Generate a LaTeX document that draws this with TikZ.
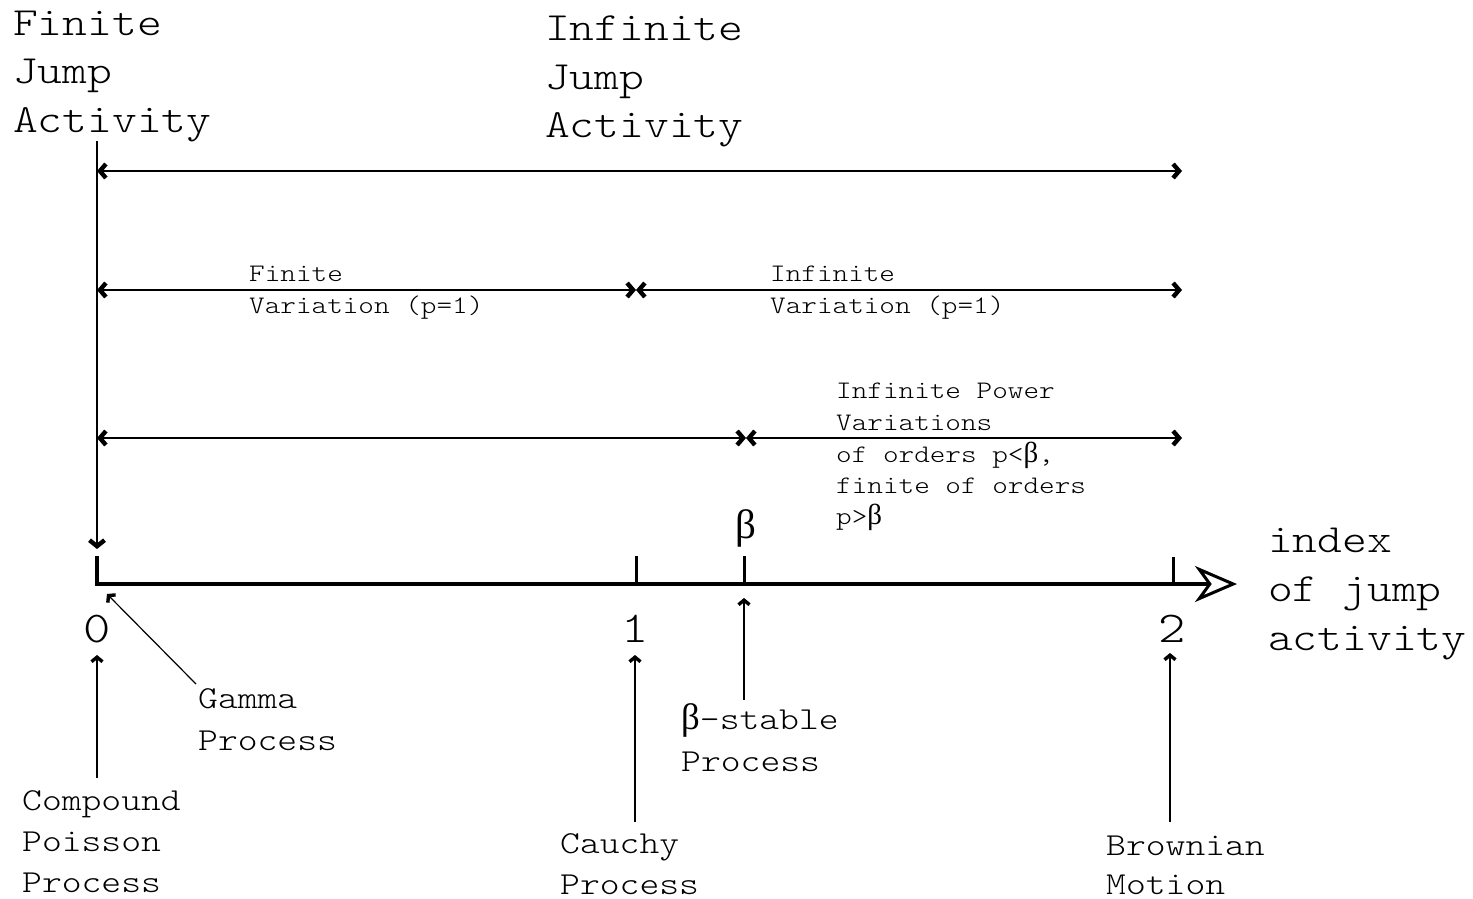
\documentclass[tikz,border=0pt]{standalone}
\usepackage{fontspec}
\setmainfont{Latin Modern Mono Light}[FakeStretch=1.18]
\newfontfamily\serifb{Liberation Serif}
\usetikzlibrary{arrows.meta}
\newcommand{\bt}{{\serifb\fontsize{1.15em}{1em}\selectfont β}}
\begin{document}
\begin{tikzpicture}[x=1pt,y=-1pt,
  lab/.style={inner sep=0pt, anchor=base west},
  big/.style={lab, font=\fontsize{40}{48}\selectfont},
  mid/.style={lab, font=\fontsize{32}{41}\selectfont},
  sml/.style={lab, font=\fontsize{25.2}{32}\selectfont},
  digitlab/.style={inner sep=0pt, anchor=base, font=\fontsize{44}{50}\selectfont},
  chev/.tip={Straight Barb[length=6pt,width=14pt,line width=4.4pt]},
  lchev/.tip={Straight Barb[length=4.5pt,width=11pt,line width=3.4pt]},
  spanarrow/.style={line width=1.4pt, chev-chev},
  ptr/.style={line width=1.2pt, -lchev},
  tickmark/.style={line width=3pt},
]
\useasboundingbox (0,0) rectangle (1473,899);

% top texts
\node[big] (f1) at (13,36) {Finite};
\node[big] (f2) at (13,84) {Jump};
\node[big] (f3) at (13,132) {Activity};
\node[big] (i1) at (545,41) {Infinite};
\node[big] (i2) at (545,89) {Jump};
\node[big] (i3) at (545,137) {Activity};

% coordinates
\coordinate (o) at (97,584);
\coordinate (ztop) at (97,556);
\coordinate (axend) at (1237,584);
\coordinate (vtop) at (97,141);
\coordinate (vbot) at (97,549);
\coordinate (r1l) at (97,171);
\coordinate (r1r) at (1182,171);
\coordinate (r2l) at (97,290);
\coordinate (r2m) at (636,290);
\coordinate (r2r) at (1182,290);
\coordinate (r3l) at (97,438);
\coordinate (r3m) at (746,438);
\coordinate (r3r) at (1182,438);

% vertical line from finite jump activity
\draw[line width=1.4pt, -{Straight Barb[length=6pt,width=15pt,line width=4.4pt]}] (vtop) -- (vbot);

% ranges
\draw[spanarrow] (r1l) -- (r1r);
\draw[spanarrow] (r2l) -- (r2m);
\draw[spanarrow] (r2m) -- (r2r);
\draw[spanarrow] (r3l) -- (r3m);
\draw[spanarrow] (r3m) -- (r3r);

\node[sml] (fv1) at (249,281) {Finite};
\node[sml] (fv2) at (249,313) {Variation (p=1)};
\node[sml] (iv1) at (770,281) {Infinite};
\node[sml] (iv2) at (770,313) {Variation (p=1)};
\node[sml] (ip1) at (836,398) {Infinite Power};
\node[sml] (ip2) at (836,430) {Variations};
\node[sml] (ip3) at (836,462) {of orders p<\bt,};
\node[sml] (ip4) at (836,493) {finite of orders};
\node[sml] (ip5) at (836,524) {p>\bt};

% main axis
\draw[line width=4pt, line join=miter,
  -{Stealth[open, length=42pt, width=36pt, inset=13pt, line width=3pt]}]
  (ztop) -- (o) -- (axend);
\coordinate (t1b) at (636,584); \coordinate (t1t) at (636,556);
\coordinate (tbb) at (744,584); \coordinate (tbt) at (744,556);
\coordinate (t2b) at (1173,584); \coordinate (t2t) at (1173,557);
\draw[tickmark] (t1b) -- (t1t);
\draw[tickmark] (tbb) -- (tbt);
\draw[tickmark] (t2b) -- (t2t);

\node[inner sep=0pt, anchor=base, font=\serifb\fontsize{41}{44}\selectfont] (beta) at (746,538) {β};

\node[digitlab] (d0) at (97,642) {0};
\node[digitlab] (d1) at (635,642) {1};
\node[digitlab] (d2) at (1172,642) {2};

\node[big] (x1) at (1268,552) {index};
\node[big] (x2) at (1268,601) {of jump};
\node[big] (x3) at (1268,650) {activity};

% pointers
\coordinate (cpb) at (97,778); \coordinate (cpt) at (97,655);
\coordinate (gab) at (196,684); \coordinate (gat) at (107,594);
\coordinate (cab) at (635,822); \coordinate (cat) at (635,655);
\coordinate (bsb) at (744,700); \coordinate (bst) at (744,598);
\coordinate (brb) at (1170,822); \coordinate (brt) at (1170,653);
\draw[ptr] (cpb) -- (cpt);
\draw[ptr] (gab) -- (gat);
\draw[ptr] (cab) -- (cat);
\draw[ptr] (bsb) -- (bst);
\draw[ptr] (brb) -- (brt);

\node[mid] (g1) at (198,708) {Gamma};
\node[mid] (g2) at (198,750) {Process};
\node[mid] (c1) at (22,810) {Compound};
\node[mid] (c2) at (22,851) {Poisson};
\node[mid] (c3) at (22,892) {Process};
\node[mid] (ca1) at (560,853) {Cauchy};
\node[mid] (ca2) at (560,894) {Process};
\node[mid] (b1) at (681,729) {\bt-stable};
\node[mid] (b2) at (681,771) {Process};
\node[mid] (bm1) at (1106,855) {Brownian};
\node[mid] (bm2) at (1106,894) {Motion};
\end{tikzpicture}
\end{document}
